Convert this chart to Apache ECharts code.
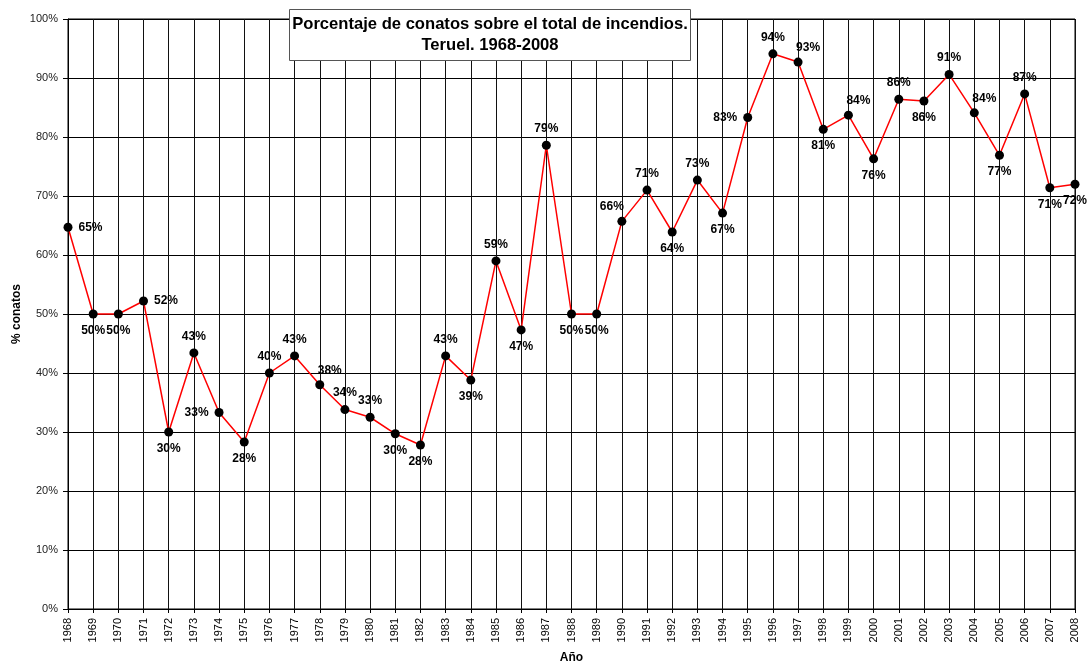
<!DOCTYPE html>
<html>
<head>
<meta charset="utf-8">
<script src="https://cdn.jsdelivr.net/npm/echarts@6/dist/echarts.min.js"></script>
<style>
  html, body { margin: 0; padding: 0; background: #fff; }
  #main { width: 1087px; height: 666px; }
</style>
</head>
<body>
<div id="main"></div>
<script>
// años
const years = [
  "1968", "1969", "1970", "1971", "1972", "1973", "1974", "1975", "1976", "1977",
  "1978", "1979", "1980", "1981", "1982", "1983", "1984", "1985", "1986", "1987",
  "1988", "1989", "1990", "1991", "1992", "1993", "1994", "1995", "1996", "1997",
  "1998", "1999", "2000", "2001", "2002", "2003", "2004", "2005", "2006", "2007", "2008"
];
// % conatos sobre el total
const conatos = [
  64.7, 50.0, 50.0, 52.2, 30.0, 43.4, 33.3, 28.3, 40.0, 42.9,
  38.0, 33.8, 32.5, 29.7, 27.8, 42.9, 38.8, 59.0, 47.3, 78.6,
  50.0, 50.0, 65.7, 71.0, 63.9, 72.7, 67.1, 83.3, 94.1, 92.7,
  81.3, 83.7, 76.3, 86.4, 86.1, 90.6, 84.1, 76.9, 87.3, 71.4, 72.0
];
// marcas del eje y
const yTicks = [0, 10, 20, 30, 40, 50, 60, 70, 80, 90, 100];

// colocación de las etiquetas (solo estilo)
const labelPlacement = [
  "right", "bottom", "bottom", "right", "bottom", "top", "left", "bottom", "top", "top",
  "topRight", "top", "top", "bottom", "bottom", "top", "bottom", "top", "bottom", "top",
  "bottom", "bottom", "topLeft", "top", "bottom", "top", "bottom", "left", "top", "topRight",
  "bottom", "topRight", "bottom", "top", "bottom", "top", "topRight", "bottom", "top", "bottom", "bottom"
];

const font = "'Liberation Sans', Arial, sans-serif";

const labelFor = (pos) => {
  const base = {
    show: true,
    fontFamily: font,
    fontWeight: "bold",
    fontSize: 12,
    color: "#000",
    distance: 6,
    formatter: (p) => Math.round(p.value) + "%",
  };
  if (pos === "topRight") return { ...base, position: "top", offset: [10, 2] };
  if (pos === "topLeft") return { ...base, position: "top", offset: [-10, 2] };
  return { ...base, position: pos };
};

const chart = echarts.init(document.getElementById("main"), null, { renderer: "canvas" });

const option = {
  backgroundColor: "#fff",
  animation: false,
  title: {
    text: "Porcentaje de conatos sobre el total de incendios.\nTeruel. 1968-2008",
    left: 487,
    top: 9,
    textAlign: "center",
    padding: [5, 3, 5, 3],
    backgroundColor: "#fff",
    borderColor: "#555",
    borderWidth: 1,
    textStyle: {
      fontFamily: font,
      fontWeight: "bold",
      fontSize: 16.6,
      lineHeight: 21,
      color: "#000",
    },
  },
  grid: {
    left: 68,
    right: 12,
    top: 19,
    bottom: 57,
    outerBoundsMode: "none",
    show: true,
    borderColor: "#000",
    borderWidth: 1,
  },
  xAxis: {
    type: "category",
    data: years,
    boundaryGap: false,
    name: "Año",
    nameLocation: "middle",
    nameGap: 43,
    nameTextStyle: { fontFamily: font, fontWeight: "bold", fontSize: 12, color: "#000" },
    axisLine: { lineStyle: { color: "#000", width: 1 } },
    axisTick: { show: true, length: 4, alignWithLabel: true, lineStyle: { color: "#000" } },
    axisLabel: {
      rotate: 90,
      interval: 0,
      margin: 9,
      fontFamily: font,
      fontSize: 11,
      color: "#000",
    },
    splitLine: { show: true, interval: 0, lineStyle: { color: "#111", width: 1 } },
  },
  yAxis: {
    type: "value",
    min: yTicks[0],
    max: yTicks[yTicks.length - 1],
    interval: yTicks[1] - yTicks[0],
    name: "% conatos",
    nameLocation: "middle",
    nameGap: 45,
    nameMoveOverlap: false,
    nameRotate: 90,
    nameTextStyle: { fontFamily: font, fontWeight: "bold", fontSize: 12, color: "#000" },
    axisLine: { show: true, lineStyle: { color: "#000", width: 1 } },
    axisTick: { show: true, length: 5, lineStyle: { color: "#000" } },
    axisLabel: {
      margin: 10,
      fontFamily: font,
      fontSize: 11,
      color: "#222",
      formatter: "{value}%",
    },
    splitLine: { show: true, lineStyle: { color: "#000", width: 1 } },
  },
  series: [
    {
      type: "line",
      data: conatos.map((v, i) => ({ value: v, label: labelFor(labelPlacement[i]) })),
      symbol: "circle",
      symbolSize: 9,
      itemStyle: { color: "#000" },
      lineStyle: { color: "#ff0000", width: 1.5 },
      clip: false,
      z: 3,
    },
  ],
};

chart.setOption(option);
</script>
</body>
</html>
